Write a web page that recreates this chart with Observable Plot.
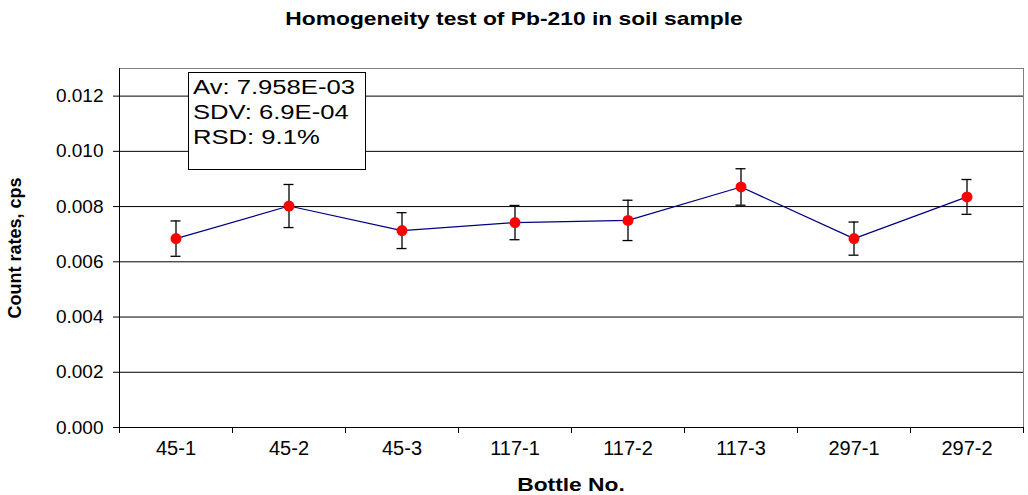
<!DOCTYPE html>
<html>
<head>
<meta charset="utf-8">
<script src="https://cdn.jsdelivr.net/npm/d3@7"></script>
<script src="https://cdn.jsdelivr.net/npm/@observablehq/plot@0.6"></script>
<style>
  html, body { margin: 0; padding: 0; background: #fff; }
  #wrap { position: relative; width: 1028px; height: 495px; font-family: "Liberation Sans", Arial, sans-serif; color: #000; }
  #title { position: absolute; left: 0; top: 8px; width: 1028px; text-align: center; font-weight: bold; font-size: 19px; line-height: 22px; transform: scaleX(1.2); transform-origin: 514px 0; }
  #chart { position: absolute; left: 0; top: 40px; }
  #stats { position: absolute; left: 188px; top: 72px; width: 178px; height: 98px; border: 1px solid #000; background: #fff; box-sizing: border-box; padding: 1px 0 0 4px; font-size: 20.5px; line-height: 25px; white-space: nowrap; }
  #stats div { transform: scaleX(1.25); transform-origin: 0 0; }
  #xlabel { position: absolute; left: 119px; width: 904px; top: 475px; text-align: center; font-weight: bold; font-size: 19px; line-height: 20px; transform: scaleX(1.2); transform-origin: 452px 0; }
</style>
</head>
<body>
<div id="wrap">
  <div id="title">Homogeneity test of Pb-210 in soil sample</div>
  <div id="chart"></div>
  <div id="stats"></div>
  <div id="xlabel">Bottle No.</div>
</div>
<script>
const bottles = ["45-1", "45-2", "45-3", "117-1", "117-2", "117-3", "297-1", "297-2"];
const rates   = [0.00684, 0.00802, 0.00713, 0.00742, 0.00750, 0.00871, 0.00684, 0.00835];
const errors  = [0.00064, 0.00078, 0.00065, 0.00062, 0.00073, 0.00066, 0.00060, 0.00063];
const yTicks  = [0, 0.002, 0.004, 0.006, 0.008, 0.010, 0.012];
const statLines = ["Av: 7.958E-03", "SDV: 6.9E-04", "RSD: 9.1%"];
const yLabel = "Count rates, cps";

const data = bottles.map((b, i) => ({bottle: b, rate: rates[i], lo: rates[i] - errors[i], hi: rates[i] + errors[i]}));

const plotH = 455, mTop = 28, mBottom = 68;
const innerH = plotH - mTop - mBottom;
const bw = (1028 - 119 - 5) / bottles.length;

const chart = Plot.plot({
  width: 1028,
  height: plotH,
  marginTop: mTop,
  marginBottom: mBottom,
  marginLeft: 119,
  marginRight: 5,
  style: {fontFamily: "'Liberation Sans', Arial, sans-serif", fontSize: "19px", color: "#000", background: "#fff"},
  x: {type: "band", domain: bottles, padding: 0, label: null},
  y: {domain: [0, 0.013], label: null},
  marks: [
    Plot.gridY(yTicks, {stroke: "#000", strokeOpacity: 1, strokeWidth: 1}),
    Plot.frame({stroke: "#808080"}),
    Plot.frame({anchor: "left", stroke: "#000"}),
    Plot.frame({anchor: "bottom", stroke: "#000"}),
    Plot.axisY(yTicks, {tickFormat: d3.format(".3f"), tickSize: 6, tickPadding: 10, fontSize: 19, label: null}),
    Plot.axisX({tickSize: 0, tickPadding: 13, fontSize: 20, label: null}),
    Plot.ruleX(bottles, {x: d => d, dx: -bw / 2, insetTop: innerH, insetBottom: -6, stroke: "#000"}),
    Plot.ruleX(bottles.slice(-1), {x: d => d, dx: bw / 2, insetTop: innerH, insetBottom: -6, stroke: "#000"}),
    Plot.ruleX(data, {x: "bottle", y1: "lo", y2: "hi", stroke: "#000", strokeWidth: 1.3}),
    Plot.tickY(data, {x: "bottle", y: "lo", insetLeft: bw / 2 - 5, insetRight: bw / 2 - 5, stroke: "#000", strokeWidth: 1.3}),
    Plot.tickY(data, {x: "bottle", y: "hi", insetLeft: bw / 2 - 5, insetRight: bw / 2 - 5, stroke: "#000", strokeWidth: 1.3}),
    Plot.line(data, {x: "bottle", y: "rate", stroke: "#000080", strokeWidth: 1.2}),
    Plot.dot(data, {x: "bottle", y: "rate", r: 5.5, fill: "#ff0000", stroke: "none"}),
    Plot.text([yLabel], {text: d => d, frameAnchor: "left", textAnchor: "middle", dx: -104, rotate: -90, fontWeight: "bold", fontSize: 18})
  ]
});
document.getElementById("chart").appendChild(chart);
document.getElementById("stats").innerHTML = statLines.map(s => `<div>${s}</div>`).join("");
</script>
</body>
</html>
